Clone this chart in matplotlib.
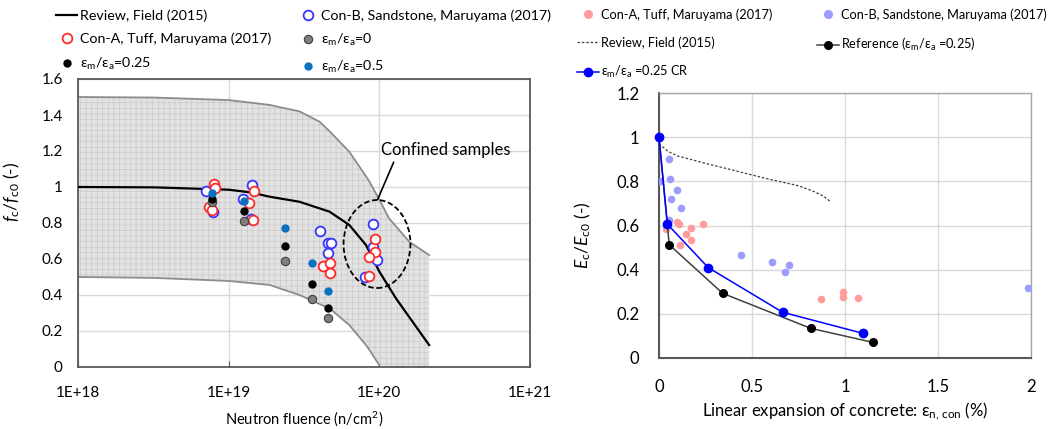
import math
import matplotlib
matplotlib.use("Agg")
import matplotlib.pyplot as plt
from matplotlib.lines import Line2D
from matplotlib.patches import Ellipse
from matplotlib.ticker import FixedLocator, FuncFormatter, NullLocator

plt.rcParams["font.family"] = ["Lato", "DejaVu Sans"]
plt.rcParams["mathtext.fontset"] = "custom"
plt.rcParams["mathtext.rm"] = "Lato"
plt.rcParams["mathtext.it"] = "Lato:italic"
plt.rcParams["mathtext.fallback"] = "stixsans"
plt.rcParams["hatch.linewidth"] = 0.4

W, H = 1053, 429

# --- strength ratio vs neutron fluence ---
field_flu = [1e18, 3.2e18, 1e19, 1.4e19, 1.87e19, 2.95e19, 4.67e19, 6.32e19, 8.15e19,
             1e20, 1.29e20, 1.66e20, 2.14e20]
field_fc = [1.0, 0.998, 0.985, 0.97, 0.946, 0.918, 0.863, 0.789, 0.678,
            0.53, 0.381, 0.252, 0.122]

band_flu = [1e18, 3.2e18, 1e19, 1.87e19, 2.95e19, 4.01e19, 4.67e19, 6.32e19, 8.15e19,
            8.59e19, 1e20, 1.16e20, 1.58e20, 2.14e20]
band_hi = [1.5, 1.497, 1.483, 1.456, 1.42, 1.363, 1.31, 1.196, 1.06,
           1.03, 0.93, 0.826, 0.696, 0.622]
band_lo = [0.5, 0.495, 0.478, 0.456, 0.4, 0.35, 0.326, 0.233, 0.122,
           0.095, 0.01, 0.0, 0.0, 0.0]

conB_flu = [7.05e18, 7.83e18, 1.42e19, 1.24e19, 1.40e19, 4.06e19, 4.59e19, 4.81e19,
            4.59e19, 9.12e19, 9.12e19, 9.7e19, 8.07e19]
conB_fc = [0.978, 0.861, 1.011, 0.933, 0.822, 0.756, 0.689, 0.689,
           0.633, 0.794, 0.667, 0.594, 0.5]

conA_flu = [7.96e18, 8.1e18, 7.4e18, 7.7e18, 1.47e19, 1.36e19, 1.44e19,
            4.26e19, 4.73e19, 4.73e19, 9.4e19, 9.4e19, 8.6e19, 8.6e19]
conA_fc = [1.017, 0.993, 0.889, 0.875, 0.978, 0.911, 0.817,
           0.561, 0.578, 0.522, 0.711, 0.639, 0.611, 0.506]

sim_flu = [7.7e18, 1.26e19, 2.35e19, 3.6e19, 4.53e19]
sim_fc_0 = [0.917, 0.811, 0.589, 0.378, 0.272]
sim_fc_025 = [0.933, 0.867, 0.672, 0.461, 0.328]
sim_fc_05 = [0.967, 0.922, 0.772, 0.578, 0.422]

# --- Young's modulus ratio vs linear expansion ---
field_exp = [0.0, 0.05, 0.1, 0.22, 0.4, 0.6, 0.75, 0.83, 0.88, 0.92]
field_ec = [0.97, 0.935, 0.915, 0.888, 0.85, 0.808, 0.78, 0.755, 0.735, 0.71]

conA_exp = [0.038, 0.098, 0.109, 0.113, 0.145, 0.172, 0.172, 0.235, 0.869, 0.988, 0.988, 1.072]
conA_ec = [0.585, 0.614, 0.606, 0.513, 0.561, 0.588, 0.534, 0.605, 0.267, 0.297, 0.275, 0.272]

conB_exp = [0.005, 0.055, 0.059, 0.095, 0.063, 0.117, 0.055, 0.441, 0.608, 0.679, 0.7, 1.986]
conB_ec = [0.802, 0.9, 0.81, 0.76, 0.721, 0.677, 0.627, 0.468, 0.433, 0.389, 0.419, 0.318]

ref_exp = [0.0, 0.055, 0.342, 0.817, 1.149]
ref_ec = [1.0, 0.513, 0.293, 0.134, 0.071]

cr_exp = [0.0, 0.045, 0.265, 0.665, 1.095]
cr_ec = [1.0, 0.606, 0.409, 0.207, 0.112]

RED, BLUE = "#ff2a2a", "#3535ff"
PINK, LBLUE = "#ff9c9c", "#9c9cff"
MBLUE = "#0a70c0"
GRID = "#d9d9d9"
SPINE = "#595959"


def fig_legend(fig, handles, labels, x_px, y_px, size, spacing, hlen):
    fig.legend(handles, labels, loc="upper left",
               bbox_to_anchor=(x_px / W, 1 - y_px / H), bbox_transform=fig.transFigure,
               frameon=False, borderpad=0, borderaxespad=0, fontsize=size,
               handlelength=hlen, handletextpad=0.15, labelspacing=spacing)


fig = plt.figure(figsize=(W / 100, H / 100), dpi=100)

# left panel
ax1 = fig.add_axes([78 / W, 1 - 367 / H, 452 / W, 288 / H])
ax1.set_xscale("log")
ax1.fill_between(band_flu, band_lo, band_hi, facecolor="#e2e2e2", edgecolor="#c6c6c6",
                 hatch="+++", linewidth=0, zorder=1)
ax1.plot(band_flu, band_hi, color="#8c8c8c", lw=1.3, zorder=2)
ax1.plot(band_flu[:11], band_lo[:11], color="#8c8c8c", lw=1.3, zorder=2)
ax1.plot(field_flu, field_fc, color="black", lw=1.6, zorder=3)

ms_open = dict(ls="none", marker="o", ms=7, mfc="white", mew=1.3, zorder=4)
ax1.plot(conB_flu, conB_fc, mec=BLUE, **ms_open)
ax1.plot(conA_flu, conA_fc, mec=RED, **ms_open)
ax1.plot(sim_flu, sim_fc_0, ls="none", marker="o", ms=6, mfc="#7f7f7f", mec="#404040",
         mew=0.8, zorder=5)
ax1.plot(sim_flu, sim_fc_025, ls="none", marker="o", ms=5, color="black", zorder=5)
ax1.plot(sim_flu, sim_fc_05, ls="none", marker="o", ms=5, color=MBLUE, zorder=5)

ax1.add_patch(Ellipse((0.6615, 0.427), 0.148, 0.3056, transform=ax1.transAxes,
                      fill=False, ls=(0, (3, 1.5)), lw=1.3, ec="black", zorder=6))
ax1.annotate("Confined samples", xy=(0.663, 0.582), xycoords="axes fraction",
             xytext=(0.814, 0.753), textcoords="axes fraction", ha="center", va="center",
             fontsize=12, zorder=6,
             arrowprops=dict(arrowstyle="-", color="black", lw=1.2, relpos=(0.11, 0.0),
                             shrinkA=1, shrinkB=0))

ax1.set_xlim(1e18, 1e21)
ax1.set_ylim(0, 1.6)
ax1.xaxis.set_major_locator(FixedLocator([1e18, 1e19, 1e20, 1e21]))
ax1.xaxis.set_minor_locator(NullLocator())
ax1.xaxis.set_major_formatter(FuncFormatter(lambda v, p: f"1E+{round(math.log10(v))}"))
ax1.yaxis.set_major_locator(FixedLocator([0, 0.2, 0.4, 0.6, 0.8, 1.0, 1.2, 1.4, 1.6]))
ax1.yaxis.set_major_formatter(FuncFormatter(lambda v, p: f"{v:g}"))
ax1.tick_params(axis="x", direction="in", length=4, color=SPINE, pad=14, labelsize=11)
ax1.tick_params(axis="y", length=0, pad=11, labelsize=11)
ax1.grid(True, color=GRID, lw=1)
ax1.set_axisbelow(True)
for s in ax1.spines.values():
    s.set_color(SPINE)
    s.set_linewidth(1.3)
ax1.set_xlabel("Neutron fluence (n/cm$^2$)", fontsize=10.5, labelpad=6)
ax1.set_ylabel(r"$f_\mathrm{c}/f_\mathrm{c0}$ (-)", fontsize=12.5)
ax1.yaxis.set_label_coords(-0.124, 0.607)

# right panel
ax2 = fig.add_axes([659 / W, 1 - 358 / H, 372 / W, 265 / H])
ax2.plot(field_exp, field_ec, color="#404040", lw=0.9, ls=(0, (2, 1.5)), zorder=2)
ax2.plot(conA_exp, conA_ec, ls="none", marker="o", ms=5.5, color=PINK, mec="none", zorder=3)
ax2.plot(conB_exp, conB_ec, ls="none", marker="o", ms=5.5, color=LBLUE, mec="none", zorder=3)
ax2.plot(ref_exp, ref_ec, color="#404040", lw=1.1, marker="o", ms=5.5, mfc="black",
         mec="black", zorder=4)
ax2.plot(cr_exp, cr_ec, color="#0000ff", lw=1.1, marker="o", ms=6, zorder=5, clip_on=False)

ax2.set_xlim(0, 2)
ax2.set_ylim(0, 1.2)
ax2.xaxis.set_major_locator(FixedLocator([0, 0.5, 1, 1.5, 2]))
ax2.yaxis.set_major_locator(FixedLocator([0, 0.2, 0.4, 0.6, 0.8, 1.0, 1.2]))
ax2.xaxis.set_major_formatter(FuncFormatter(lambda v, p: f"{v:g}"))
ax2.yaxis.set_major_formatter(FuncFormatter(lambda v, p: f"{v:g}"))
ax2.tick_params(axis="both", length=0, labelsize=12)
ax2.tick_params(axis="x", pad=15)
ax2.tick_params(axis="y", pad=14)
ax2.grid(True, color=GRID, lw=1)
ax2.set_axisbelow(True)
for side in ["left", "bottom"]:
    ax2.spines[side].set_color(SPINE)
    ax2.spines[side].set_linewidth(1.5)
for side in ["top", "right"]:
    ax2.spines[side].set_color("#a6a6a6")
    ax2.spines[side].set_linewidth(1.0)
ax2.set_xlabel("Linear expansion of concrete: ε$_\\mathrm{n,\\,con}$ (%)", fontsize=12, labelpad=4)
ax2.set_ylabel(r"$E_\mathrm{c}/E_\mathrm{c0}$ (-)", fontsize=12.5)
ax2.yaxis.set_label_coords(-0.177, 0.464)

# legends above the panels
h_field = Line2D([], [], color="black", lw=1.6)
h_conA = Line2D([], [], ls="none", marker="o", ms=7, mfc="white", mec=RED, mew=1.3)
h_conB = Line2D([], [], ls="none", marker="o", ms=7, mfc="white", mec=BLUE, mew=1.3)
h_0 = Line2D([], [], ls="none", marker="o", ms=6, mfc="#7f7f7f", mec="#404040", mew=0.8)
h_025 = Line2D([], [], ls="none", marker="o", ms=5, color="black")
h_05 = Line2D([], [], ls="none", marker="o", ms=5, color=MBLUE)
em = "ε$_\\mathrm{m}$/ε$_\\mathrm{a}$"
fig_legend(fig, [h_field, h_conA, h_025],
           ["Review, Field (2015)", "Con-A, Tuff, Maruyama (2017)", em + "=0.25"],
           56, 9, 10.3, 0.75, 1.5)
fig_legend(fig, [h_conB, h_0, h_05],
           ["Con-B, Sandstone, Maruyama (2017)", em + "=0", em + "=0.5"],
           297, 9, 10.3, 0.75, 1.5)

h_pink = Line2D([], [], ls="none", marker="o", ms=5.5, color=PINK)
h_lblue = Line2D([], [], ls="none", marker="o", ms=5.5, color=LBLUE)
h_dash = Line2D([], [], color="#404040", lw=0.9, ls=(0, (2, 1.5)))
h_ref = Line2D([], [], color="#404040", lw=1.1, marker="o", ms=5.5, mfc="black", mec="black")
h_cr = Line2D([], [], color="#0000ff", lw=1.1, marker="o", ms=6)
fig_legend(fig, [h_pink, h_dash, h_cr],
           ["Con-A, Tuff, Maruyama (2017)", "Review, Field (2015)", em + " =0.25 CR"],
           577, 8, 9.2, 1.22, 1.7)
fig_legend(fig, [h_lblue, h_ref],
           ["Con-B, Sandstone, Maruyama (2017)", "Reference (" + em + " =0.25)"],
           817, 8, 9.2, 1.22, 1.7)

fig.savefig("out.png", dpi=100)
